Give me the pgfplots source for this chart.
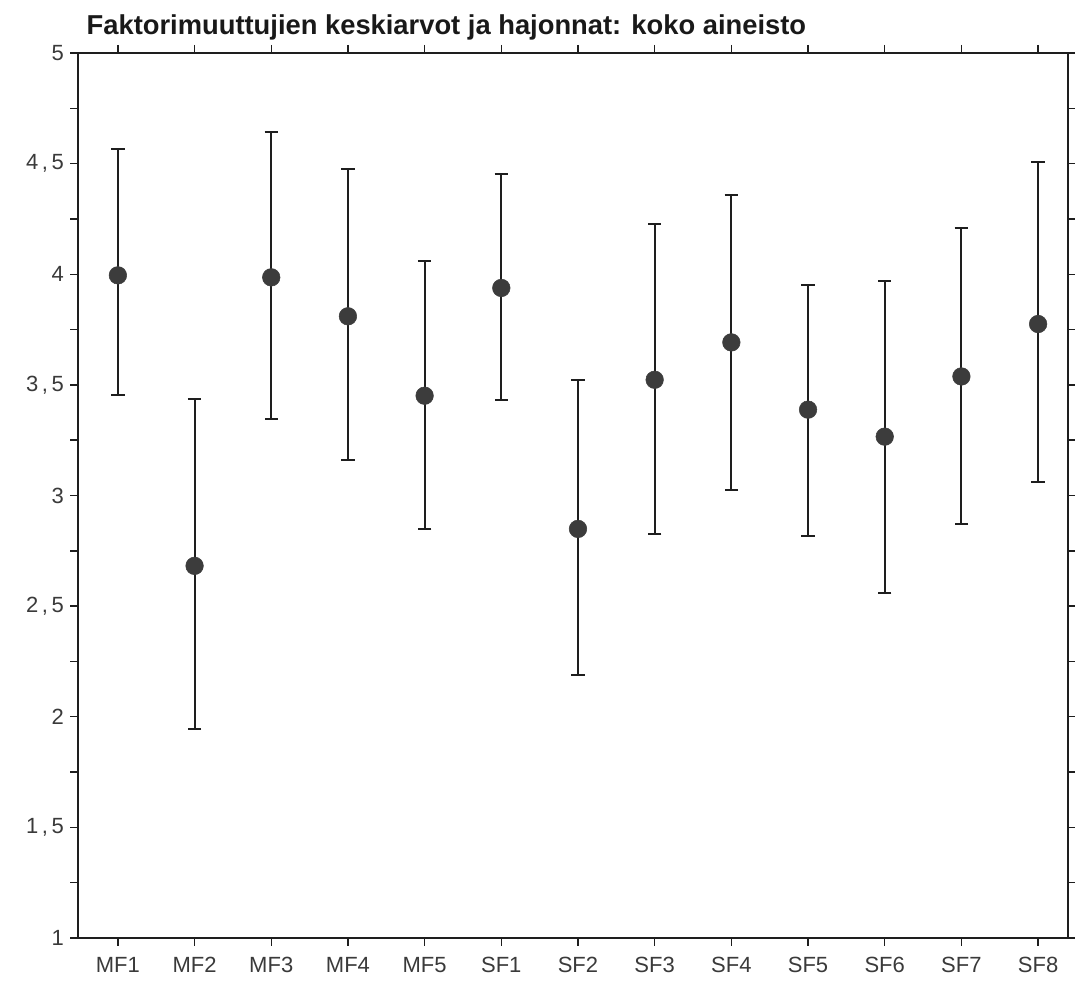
\documentclass[border=0pt]{standalone}
\usepackage{pgfplots}
\pgfplotsset{compat=1.18}
\usepackage{pgfplotstable}
\usepackage{fontspec}
\setmainfont{Liberation Sans}
\definecolor{tickgray}{HTML}{3A3A3A}
\definecolor{dotgray}{HTML}{3C3C3C}
\definecolor{linegray}{HTML}{1E1E1E}

\pgfplotstableread{
x mean hi lo
0 3.995 4.565 3.453
1 2.682 3.436 1.946
2 3.986 4.642 3.346
3 3.810 4.476 3.160
4 3.451 4.058 2.849
5 3.938 4.451 3.432
6 2.849 3.523 2.188
7 3.523 4.227 2.827
8 3.692 4.358 3.026
9 3.388 3.950 2.818
10 3.266 3.968 2.561
11 3.538 4.208 2.870
12 3.775 4.506 3.060
}\datatable

\begin{document}
\begin{tikzpicture}
\useasboundingbox (-58.5pt,-32.25pt) rectangle (747.75pt,703.5pt);
\begin{axis}[
  at={(0,0)}, anchor=south west,
  scale only axis,
  width=742.5pt, height=663.75pt,
  xmin=-0.52, xmax=12.39,
  ymin=1, ymax=5,
  xtick={0,1,2,3,4,5,6,7,8,9,10,11,12},
  xticklabels={MF1,MF2,MF3,MF4,MF5,SF1,SF2,SF3,SF4,SF5,SF6,SF7,SF8},
  ytick={1,1.5,2,2.5,3,3.5,4,4.5,5},
  yticklabels={1,{1\,,\,5},2,{2\,,\,5},3,{3\,,\,5},4,{4\,,\,5},5},
  minor ytick={1.25,1.75,2.25,2.75,3.25,3.75,4.25,4.75},
  tick pos=both,
  tick align=outside,
  xticklabel pos=bottom,
  yticklabel pos=left,
  major tick length=6pt,
  minor tick length=6pt,
  tick style={line width=1.1pt, color=linegray},
  axis line style={line width=1.5pt, color=linegray},
  ticklabel style={font=\fontsize{16.5}{19}\selectfont, text=tickgray},
  xticklabel style={yshift=-5pt},
  yticklabel style={xshift=-1pt},
  title={Faktorimuuttujien keskiarvot ja hajonnat: koko aineisto},
  title style={at={(0,1)}, anchor=base west, xshift=3pt, yshift=8pt,
    font=\fontsize{20.5}{24}\selectfont\bfseries, text=black!90},
  clip=false,
]
\addplot[
  only marks,
  mark=*,
  mark size=6.6pt,
  mark options={fill=dotgray, draw=dotgray},
  error bars/.cd,
    y dir=both,
    y explicit,
    error bar style={line width=1.5pt, color=linegray},
    error mark=-,
    error mark options={rotate=90, line width=1.5pt, mark size=5pt, color=linegray},
] table[
  x=x, y=mean,
  y error plus expr=\thisrow{hi}-\thisrow{mean},
  y error minus expr=\thisrow{mean}-\thisrow{lo},
] {\datatable};
\end{axis}
\end{tikzpicture}
\end{document}
